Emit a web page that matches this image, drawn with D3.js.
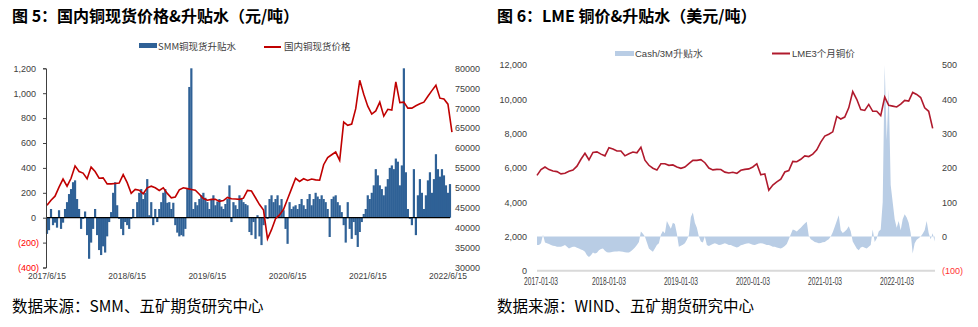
<!DOCTYPE html>
<html><head><meta charset="utf-8">
<script src="https://cdn.jsdelivr.net/npm/d3@7"></script>
<style>
html,body{margin:0;padding:0;background:#fff;}
svg{display:block;}
</style></head>
<body>
<svg id="c" width="978" height="327"></svg>
<script>
// ---------- DATA : chart 1 (国内) ----------
const title1 = "图 5：国内铜现货价格&升贴水（元/吨）";
const source1 = "数据来源：SMM、五矿期货研究中心";
const series1Names = ["SMM铜现货升贴水", "国内铜现货价格"];
const xTicks1 = ["2017/6/15","2018/6/15","2019/6/15","2020/6/15","2021/6/15","2022/6/15"];
const leftTicks1 = [-400,-200,0,200,400,600,800,1000,1200];
const rightTicks1 = [30000,35000,40000,45000,50000,55000,60000,65000,70000,75000,80000];
const basis1Start = "2017-06-15", basis1End = "2022-06-24";
const basis1 = [-130,-100,70,-60,-40,-80,60,-90,-40,70,125,190,230,285,300,150,70,-90,-10,50,
 -140,-330,-200,-90,70,-140,-260,-300,-230,-280,-150,-35,45,200,285,100,-10,-90,-140,-35,
 -60,-90,-10,70,0,125,200,230,150,200,310,20,125,-60,70,-35,70,125,200,230,
 120,125,70,120,-60,-120,-150,-140,-150,-90,230,1050,1200,70,125,100,150,180,200,160,
 125,70,150,180,100,130,150,90,70,110,150,260,-35,125,100,70,180,150,125,110,
 100,-115,-140,-35,-170,20,-150,-220,-60,100,-10,150,180,125,150,180,100,150,60,-90,
 -210,125,70,90,100,70,110,150,100,70,150,190,100,150,200,170,150,180,150,125,
 70,-155,150,170,180,125,100,45,-60,-200,125,-90,-170,-35,-140,-235,-115,-35,30,70,
 180,150,200,260,390,340,260,230,180,250,310,400,420,390,475,450,260,420,1200,365,
 70,-10,-60,390,-140,180,310,200,70,180,300,365,200,310,510,390,330,390,340,260,200,270];
const price1Start = "2017-06-15", price1End = "2022-07-03";
const price1 = [45600,46900,47900,50170,52200,50400,52400,55500,54100,53700,52300,55200,54100,52400,52500,51000,51000,51100,51200,53300,
 51300,48600,49600,49400,48500,50000,50400,50000,49340,50000,48600,47500,47700,49500,50000,49800,49600,49400,48400,47300,
 46900,47100,47100,46600,46800,47600,47250,47200,47100,47400,49340,49200,47500,45800,44400,37200,39500,42240,43200,44600,
 47200,49800,52400,51600,52270,51850,52200,52000,51900,55800,57600,58300,58980,56880,66500,65700,66000,69870,77000,73500,
 70500,68500,69300,71500,68000,69700,69500,76570,71400,71500,70000,70000,70600,71100,71500,73000,74400,75730,72500,72300,71000,64000];

// ---------- DATA : chart 2 (LME) ----------
const title2 = "图 6：LME 铜价&升贴水（美元/吨）";
const source2 = "数据来源：WIND、五矿期货研究中心";
const series2Names = ["Cash/3M升贴水", "LME3个月铜价"];
const xTicks2 = ["2017-01-03","2018-01-03","2019-01-03","2020-01-03","2021-01-03","2022-01-03"];
const leftTicks2 = [0,2000,4000,6000,8000,10000,12000];
const rightTicks2 = [-100,0,100,200,300,400,500];
const price2Start = "2017-01-03", price2End = "2022-07-03";
const price2 = [5563,5900,6050,5900,5820,5780,5650,5680,5796,5870,6100,6500,6850,6470,6900,6930,6800,6700,7180,7100,
 6980,6980,6700,6825,6920,6880,7200,6450,6150,5980,5870,6240,6240,6145,6170,6050,5970,6050,6250,6436,
 6436,6480,6300,5990,5880,5910,5900,5750,5700,5740,5680,5860,5912,5940,6050,6240,5600,5650,4700,5000,
 5180,5340,5757,5840,6380,6360,6500,6700,6660,6800,7050,7500,7850,7960,8100,9000,8850,8962,9500,10450,
 10000,9400,9350,9700,9300,9300,9050,10130,9650,9600,9550,9720,9935,9900,10400,10280,10100,9500,9300,8300];
const basis2Start = "2017-01-03", basis2End = "2022-07-13";
const basis2 = [-25,-25,-20,5,-18,-20,-22,-25,-27,-28,-30,-30,-30,-28,-25,-30,-35,-32,-30,-30,
 -33,-35,-38,-40,-45,-55,-60,-55,-47,-50,-48,-40,-37,-35,-42,-46,-47,-46,-45,-44,
 -44,-43,-44,-45,-46,-47,-47,-43,-38,-32,-25,-16,14,8,0,-18,-35,-40,-45,-35,
 -25,-20,5,16,9,45,33,22,40,36,8,-30,-27,-24,-20,-10,4,57,70,40,
 25,0,-15,-18,0,-25,-28,-25,-22,-20,-22,-25,-24,-22,-20,-22,-25,-25,-28,-30,
 -32,-30,-26,-24,-22,-21,-20,-22,-24,-25,-23,-21,-20,-21,-23,-25,-25,-27,-30,-30,
 -32,-34,-35,-32,-28,-22,-8,6,20,18,14,20,25,32,38,43,2,-8,-12,-16,
 -18,-20,-19,-17,-16,-12,-8,0,12,28,45,62,18,10,14,20,30,15,-15,-25,
 -35,-40,-32,-30,-33,-35,-30,-25,20,-16,-6,14,20,100,500,280,430,150,100,50,
 25,45,18,50,65,55,40,10,-50,-20,-10,-5,0,8,18,45,10,-8,9,-15];

// ---------- helpers ----------
const parse = d3.timeParse("%Y-%m-%d");
const parseSlash = d3.timeParse("%Y/%m/%d");
function spread(startStr, endStr, n){
  const s = d3.scaleLinear().domain([0, n-1]).range([parse(startStr), parse(endStr)]);
  return d3.range(n).map(i => new Date(s(i)));
}
const fmtParen = v => v < 0 ? "(" + d3.format(",")(-v) + ")" : d3.format(",")(v);
const svg = d3.select("#c");
const cjk = "'Noto Sans CJK SC','Noto Sans',sans-serif";
const num = "'Liberation Sans',Arial,sans-serif";

// ---------- titles & sources ----------
svg.append("text").attr("x",12).attr("y",22).text(title1)
  .style("font-family",cjk).style("font-weight","bold").style("font-size","16px").attr("fill","#000");
svg.append("text").attr("x",497).attr("y",22).text(title2)
  .style("font-family",cjk).style("font-weight","bold").style("font-size","16px").attr("fill","#000");
svg.append("text").attr("x",12).attr("y",312).text(source1)
  .style("font-family",cjk).style("font-size","15.5px").attr("fill","#000");
svg.append("text").attr("x",497).attr("y",312).text(source2)
  .style("font-family",cjk).style("font-size","15.5px").attr("fill","#000");

// ================= CHART 1 =================
const g1 = svg.append("g");
const x1 = d3.scaleTime().domain([parseSlash("2017/6/15"), parseSlash("2022/6/15")]).range([47, 448]);
const yL1 = d3.scaleLinear().domain([-400, 1200]).range([267.5, 68.3]);
const yR1 = d3.scaleLinear().domain([30000, 80000]).range([267.5, 68.3]);
const bDates1 = spread(basis1Start, basis1End, basis1.length);
const pDates1 = spread(price1Start, price1End, price1.length);

g1.append("g").selectAll("rect").data(basis1).join("rect")
  .attr("x",(d,i)=>x1(bDates1[i])-1.1).attr("width",2.2)
  .attr("y",d=>Math.min(yL1(d),yL1(0))).attr("height",d=>Math.abs(yL1(d)-yL1(0)))
  .attr("fill","#2f6196");

g1.append("line").attr("x1",46).attr("x2",450).attr("y1",yL1(0)).attr("y2",yL1(0))
  .attr("stroke","#000").attr("stroke-width",1.3);

g1.append("path").datum(price1)
  .attr("d", d3.line().x((d,i)=>x1(pDates1[i])).y(d=>yR1(d)))
  .attr("fill","none").attr("stroke","#c00000").attr("stroke-width",1.6);

const axL1 = g1.append("g").attr("transform","translate(46,0)")
  .call(d3.axisLeft(yL1).tickValues(leftTicks1).tickSize(3).tickPadding(7).tickFormat(fmtParen));
axL1.select(".domain").attr("stroke","#404040");
axL1.selectAll(".tick line").attr("stroke","#404040");
axL1.selectAll(".tick text").style("font-family",num).style("font-size","9px")
  .attr("fill",d=>d<0?"#ff0000":"#404040").attr("dx",d=>d<0?3:0);

const axR1 = g1.append("g").attr("transform","translate(450,0)")
  .call(d3.axisRight(yR1).tickValues(rightTicks1).tickSize(0).tickPadding(5).tickFormat(d3.format("d")));
axR1.select(".domain").remove();
axR1.selectAll(".tick text").style("font-family",num).style("font-size","9px").attr("fill","#404040");

g1.append("g").selectAll("text").data(xTicks1).join("text")
  .attr("x",d=>x1(parseSlash(d))).attr("y",279).attr("text-anchor","middle").text(d=>d)
  .style("font-family",num).style("font-size","8.5px").attr("fill","#404040");

// legend 1
const lg1 = g1.append("g");
lg1.append("rect").attr("x",139).attr("y",43).attr("width",18).attr("height",5).attr("fill","#2f6196");
lg1.append("text").attr("x",158).attr("y",49.5).text(series1Names[0])
  .style("font-family",cjk).style("font-size","9.5px").attr("fill","#404040");
lg1.append("line").attr("x1",264).attr("x2",281).attr("y1",47).attr("y2",47).attr("stroke","#c00000").attr("stroke-width",2);
lg1.append("text").attr("x",284).attr("y",49.5).text(series1Names[1])
  .style("font-family",cjk).style("font-size","9.5px").attr("fill","#404040");

// ================= CHART 2 =================
const g2 = svg.append("g");
const x2 = d3.scaleTime().domain([parse("2017-01-03"), parse("2022-01-03")]).range([537, 897]);
const yL2 = d3.scaleLinear().domain([0, 12000]).range([270.7, 65]);
const yR2 = d3.scaleLinear().domain([-100, 500]).range([270.7, 65]);
const bDates2 = spread(basis2Start, basis2End, basis2.length);
const pDates2 = spread(price2Start, price2End, price2.length);

g2.append("line").attr("x1",537).attr("x2",935).attr("y1",yL2(0)).attr("y2",yL2(0))
  .attr("stroke","#d9d9d9").attr("stroke-width",2);

g2.append("path").datum(basis2)
  .attr("d", d3.area().x((d,i)=>x2(bDates2[i])).y0(yR2(0)).y1(d=>yR2(d)))
  .attr("fill","#b9cde5");

g2.append("path").datum(price2)
  .attr("d", d3.line().x((d,i)=>x2(pDates2[i])).y(d=>yL2(d)))
  .attr("fill","none").attr("stroke","#b01a2d").attr("stroke-width",1.6);

const axL2 = g2.append("g").attr("transform","translate(527,0)")
  .call(d3.axisLeft(yL2).tickValues(leftTicks2).tickSize(0).tickPadding(0).tickFormat(d3.format(",")));
axL2.select(".domain").remove();
axL2.selectAll(".tick text").style("font-family",num).style("font-size","9px").attr("fill","#404040");

const axR2 = g2.append("g").attr("transform","translate(942,0)")
  .call(d3.axisRight(yR2).tickValues(rightTicks2).tickSize(0).tickPadding(0).tickFormat(fmtParen));
axR2.select(".domain").remove();
axR2.selectAll(".tick text").style("font-family",num).style("font-size","9px")
  .attr("fill",d=>d<0?"#ff3333":"#404040");

g2.append("g").selectAll("text").data(xTicks2).join("text")
  .attr("x",(d,i)=>x2(parse(d)) + (i===0?4:0)).attr("y",284.5).attr("text-anchor","middle").text(d=>d)
  .attr("textLength",34).attr("lengthAdjust","spacingAndGlyphs")
  .style("font-family",num).style("font-size","10px").attr("fill","#404040");

// legend 2
const lg2 = g2.append("g");
lg2.append("rect").attr("x",615).attr("y",51).attr("width",19).attr("height",5).attr("fill","#b9cde5");
lg2.append("text").attr("x",635).attr("y",56.5).text(series2Names[0])
  .style("font-family",num).style("font-size","9.5px").attr("fill","#404040");
lg2.append("line").attr("x1",772).attr("x2",790).attr("y1",53.5).attr("y2",53.5).attr("stroke","#b01a2d").attr("stroke-width",2);
lg2.append("text").attr("x",792).attr("y",56.5).text(series2Names[1])
  .style("font-family",num+","+cjk).style("font-size","9.5px").attr("fill","#404040");
</script>
</body></html>
